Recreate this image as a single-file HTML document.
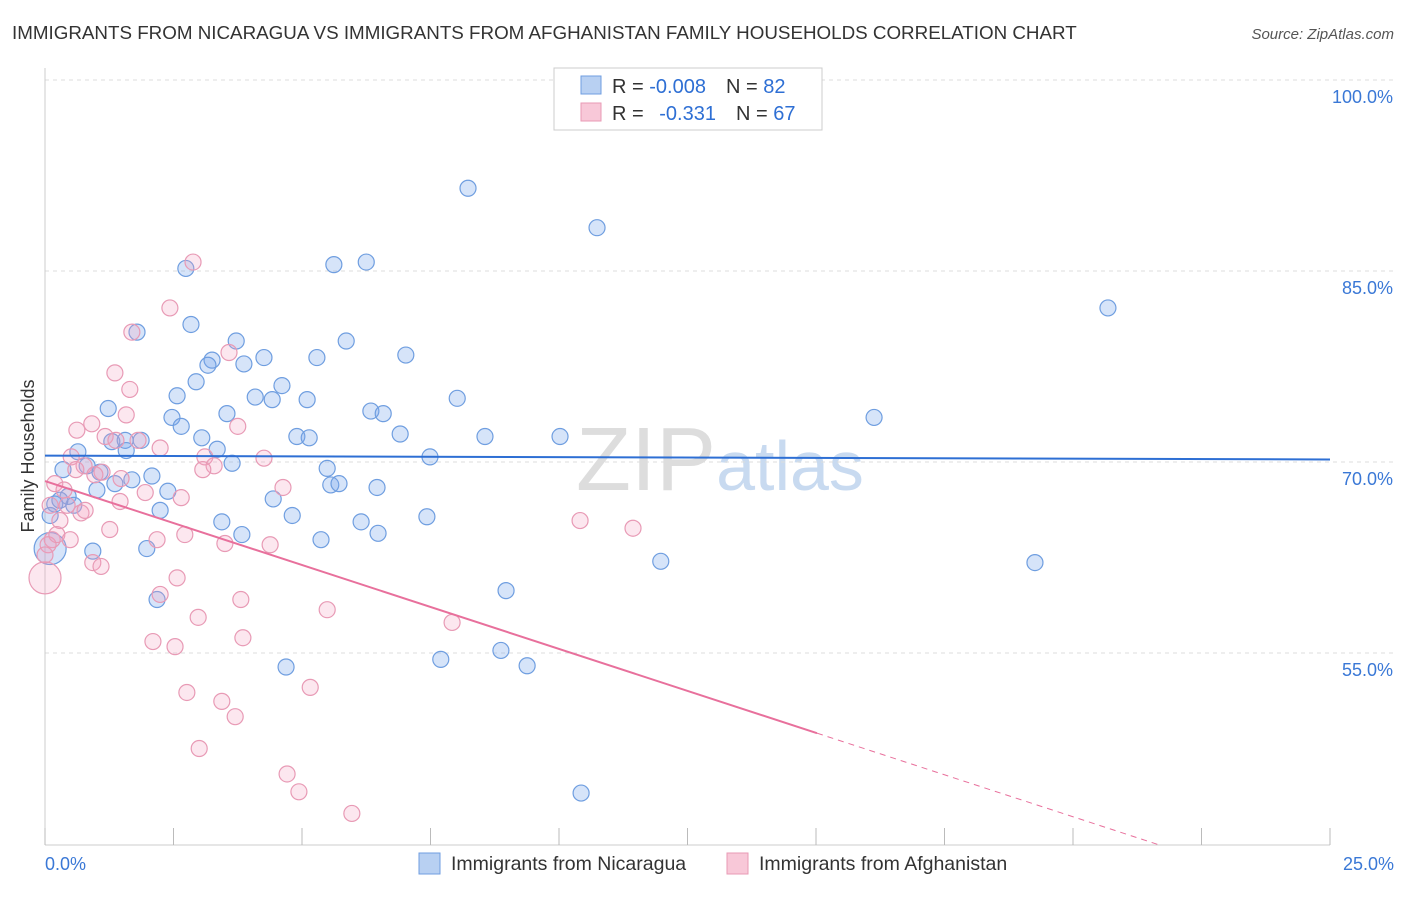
<!DOCTYPE html>
<html><head><meta charset="utf-8"><style>
body{margin:0;background:#fff;font-family:"Liberation Sans",sans-serif;}
svg text{font-family:"Liberation Sans",sans-serif;}
</style></head><body>
<svg id="chart" width="1406" height="892" viewBox="0 0 1406 892">
<text x="12" y="39" font-size="18.8" fill="#333">IMMIGRANTS FROM NICARAGUA VS IMMIGRANTS FROM AFGHANISTAN FAMILY HOUSEHOLDS CORRELATION CHART</text>
<text x="1394" y="39" font-size="15" fill="#555" text-anchor="end" font-style="italic">Source: ZipAtlas.com</text>
<text x="720" y="490" font-size="90" fill="#ddd" text-anchor="middle" font-family="Liberation Serif">ZIP<tspan fill="#c8daf0" font-family="Liberation Sans" font-size="70">atlas</tspan></text>
<g id="grid"></g><g id="axes"></g><g id="marks"></g>
<text transform="translate(34,456) rotate(-90)" font-size="18" fill="#333" text-anchor="middle">Family Households</text>
<g>
<rect x="554" y="68" width="268" height="62" fill="#fff" stroke="#ccc"/>
<rect x="581" y="76" width="20" height="18" fill="#b8d0f2" stroke="#6f9ee0"/>
<rect x="581" y="103" width="20" height="18" fill="#f8c8d8" stroke="#e89ab5"/>
<text x="612" y="93" font-size="20" fill="#333">R = <tspan fill="#2e6fd4">-0.008</tspan><tspan dx="20">N = </tspan><tspan fill="#2e6fd4">82</tspan></text>
<text x="612" y="120" font-size="20" fill="#333">R = <tspan fill="#2e6fd4" dx="10">-0.331</tspan><tspan dx="20">N = </tspan><tspan fill="#2e6fd4">67</tspan></text>
</g>
<g>
<rect x="419" y="853" width="21" height="21" fill="#b8d0f2" stroke="#6f9ee0"/>
<text x="451" y="870" font-size="19.5" fill="#333">Immigrants from Nicaragua</text>
<rect x="727" y="853" width="21" height="21" fill="#f8c8d8" stroke="#e89ab5"/>
<text x="759" y="870" font-size="19.5" fill="#333">Immigrants from Afghanistan</text>
</g>
</svg>
<script>
const yTicks=[100,85,70,55];
const yTickLabels=["100.0%","85.0%","70.0%","55.0%"];
const xTickLabels=["0.0%","25.0%"];
const nicX=[8.23,10.74,2.74,5.62,6.25,20.68,1.79,2.84,3.72,5.86,4.26,3.25,3.17,3.87,5.29,7.02,2.94,4.61,2.57,4.09,4.42,5.10,8.02,1.23,3.54,6.34,6.58,2.47,16.13,2.65,6.91,8.56,10.02,1.30,1.56,1.87,3.05,4.90,5.14,1.58,3.35,0.64,3.64,7.49,0.35,0.82,1.07,5.49,2.08,1.69,1.36,5.56,5.72,6.46,1.01,2.39,4.44,0.45,0.19,0.56,2.24,4.81,3.44,6.15,7.43,3.83,5.37,6.48,0.93,1.98,11.98,19.26,0.1,2.18,8.97,4.69,7.70,8.87,9.38,10.43,0.1,0.29];
const nicY=[91.5,88.4,85.2,85.5,85.7,82.1,80.2,80.8,79.5,79.5,78.2,78.0,77.6,77.7,78.2,78.4,76.3,76.0,75.2,75.1,74.9,74.9,75.0,74.2,73.8,74.0,73.8,73.5,73.5,72.8,72.2,72.0,72.0,71.6,71.7,71.7,71.9,72.0,71.9,70.9,71.0,70.8,69.9,70.4,69.4,69.7,69.2,69.5,68.9,68.6,68.3,68.2,68.3,68.0,67.8,67.7,67.1,67.3,66.7,66.6,66.2,65.8,65.3,65.3,65.7,64.3,63.9,64.4,63.0,63.2,62.2,62.1,63.2,59.2,59.9,53.9,54.5,55.2,54.0,44.0,65.8,67.0];
const nicSize=nicX.map((v,i)=>i===72?2:1);
const afgX=[2.88,2.43,1.69,3.58,1.36,1.65,1.58,0.91,0.62,3.75,1.17,1.38,1.81,2.24,0.51,3.11,3.29,3.07,0.76,1.11,1.48,4.63,0.19,1.95,2.65,1.46,0.43,0.70,0.29,1.26,2.72,3.50,4.38,2.18,0.14,0.06,0.23,0.93,1.09,2.57,2.24,3.81,5.49,2.98,7.92,10.41,11.44,3.85,2.10,2.53,2.76,5.16,3.44,3.70,3.00,4.71,4.94,5.97,0.0,0.0,0.37,0.60,0.97,0.10,0.78,0.49,4.26];
const afgY=[85.7,82.1,80.2,78.6,77.0,75.7,73.7,73.0,72.5,72.8,72.0,71.7,71.7,71.1,70.4,70.4,69.7,69.4,69.7,69.2,68.7,68.0,68.3,67.6,67.2,66.9,66.6,66.0,65.4,64.7,64.3,63.6,63.5,63.9,63.9,63.5,64.3,62.1,61.8,60.9,59.6,59.2,58.4,57.8,57.4,65.4,64.8,56.2,55.9,55.5,51.9,52.3,51.2,50.0,47.5,45.5,44.1,42.4,60.9,62.7,67.8,69.4,69.0,66.6,66.2,63.9,70.3];
const afgSize=afgX.map((v,i)=>i===58?2:1);
const nicTrend=[70.5,70.2];
const afgTrend=[68.5,-1.318];
const afgSolidEnd=15.02;

const X0=45,X1=1330,XMAX=25,YB=845;
const xs=v=>X0+v*(X1-X0)/XMAX;
const ys=v=>462-(v-70)*191/15;
const NS="http://www.w3.org/2000/svg";
function mk(tag,attrs,parent){const e=document.createElementNS(NS,tag);for(const k in attrs)e.setAttribute(k,attrs[k]);parent.appendChild(e);return e;}
const grid=document.getElementById('grid'),axes=document.getElementById('axes'),marks=document.getElementById('marks');
yTicks.forEach((t,i)=>{
 const l=mk('line',{x1:X0,x2:1394,y1:ys(t),y2:ys(t),stroke:'#ddd','stroke-dasharray':'4,4'},grid);
 
 
 const tx=mk('text',{x:1393,y:ys(t)+23,'font-size':18,fill:'#3a78d6','text-anchor':'end'},axes);
 tx.textContent=yTickLabels[i];
 
 
});
const ya=mk('line',{x1:X0,x2:X0,y1:68,y2:YB,stroke:'#ccc'},axes);


const xa=mk('line',{x1:X0,x2:X1,y1:YB,y2:YB,stroke:'#ccc'},axes);


for(let v=0;v<=XMAX+0.01;v+=2.5){
 const t=mk('line',{x1:xs(v),x2:xs(v),y1:828,y2:YB,stroke:'#bbb'},axes);
 
 
}
[[0,'start',45],[XMAX,'end',1394]].forEach((d,i)=>{
 const tx=mk('text',{x:d[2],y:870,'font-size':18,fill:'#3a78d6','text-anchor':d[1]},axes);
 tx.textContent=xTickLabels[i];
 
 
});
nicX.forEach((x,i)=>{
 const c=mk('circle',{cx:xs(x),cy:ys(nicY[i]),r:8*nicSize[i],fill:'rgba(120,165,235,0.3)',stroke:'#6f9ee0','stroke-width':1.2},marks);
 
 
});
afgX.forEach((x,i)=>{
 const c=mk('circle',{cx:xs(x),cy:ys(afgY[i]),r:8*afgSize[i],fill:'rgba(245,160,190,0.25)',stroke:'#e89ab5','stroke-width':1.2},marks);
 
 
});
const bl=mk('line',{x1:xs(0),y1:ys(nicTrend[0]),x2:xs(XMAX),y2:ys(nicTrend[1]),stroke:'#2e6fd4','stroke-width':2},marks);


const af=v=>afgTrend[0]+afgTrend[1]*v;
const pl=mk('line',{x1:xs(0),y1:ys(af(0)),x2:xs(afgSolidEnd),y2:ys(af(afgSolidEnd)),stroke:'#e8709c','stroke-width':2},marks);


const yBottomVal=70-(YB-462)*15/191;
const xEnd=(yBottomVal-afgTrend[0])/afgTrend[1];
const pd=mk('line',{x1:xs(afgSolidEnd),y1:ys(af(afgSolidEnd)),x2:xs(xEnd),y2:ys(af(xEnd)),stroke:'#e8709c','stroke-width':1,'stroke-dasharray':'6,5'},marks);


</script>
</body></html>
